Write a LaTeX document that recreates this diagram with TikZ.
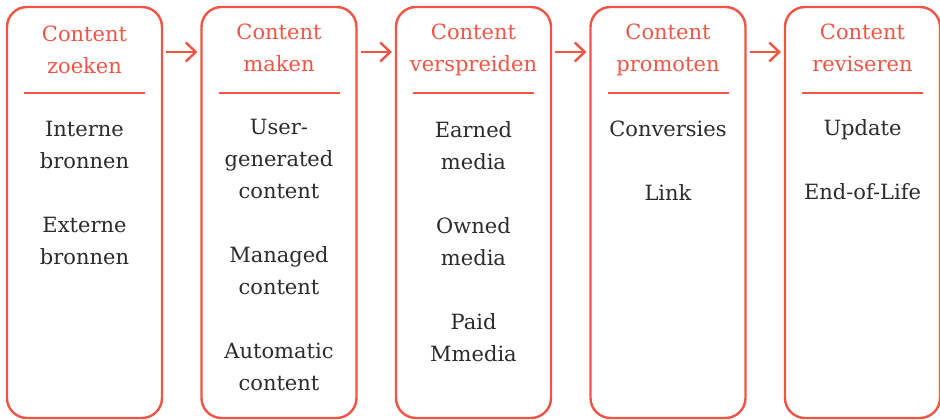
\documentclass[tikz,border=0pt]{standalone}
\usepackage{fontspec}
\setmainfont{DejaVu Serif}
\usetikzlibrary{arrows.meta}
\definecolor{kop}{HTML}{EF5545}
\definecolor{tekst}{HTML}{2B2B2B}

\begin{document}
\begin{tikzpicture}[x=1pt,y=-1pt,
        fase/.style={draw=kop, line width=2.4pt, rounded corners=20pt, outer sep=0pt,
            minimum width=155pt, minimum height=411pt, inner sep=0pt},
        kopje/.style={text=kop, font=\fontsize{21}{32}\selectfont, align=center, inner sep=0pt},
        inhoud/.style={text=tekst, font=\fontsize{21}{32}\selectfont, align=center,
            inner sep=0pt, anchor=north},
        streep/.style={draw=kop, line width=2.4pt},
        pijl/.style={draw=kop, line width=2.4pt, -{Straight Barb[length=10pt,width=19pt]}}]
    \useasboundingbox (0,0) rectangle (940,420);
    % vijf fasen naast elkaar
    \foreach \i/\dy/\titel/\body in {
            1/0/{Content\\zoeken}/{Interne\\bronnen\\[32pt]Externe\\bronnen},
            2/-2/{Content\\maken}/{User-\\generated\\content\\[32pt]Managed\\content\\[32pt]Automatic\\content},
            3/0/{Content\\verspreiden}/{Earned\\media\\[32pt]Owned\\media\\[32pt]Paid\\Mmedia},
            4/0/{Content\\promoten}/{Conversies\\[32pt]Link},
            5/-2/{Content\\reviseren}/{Update\\[32pt]End-of-Life}} {
        \node[fase] (f\i) at ({84.5+194.5*(\i-1)},212.5) {};
        \node[kopje] (k\i) at ([shift={(0,43+\dy)}]f\i.north) {\titel};
        \draw[streep] ([shift={(17,86)}]f\i.north west) -- ([shift={(-17,86)}]f\i.north east);
        \node[inhoud] (t\i) at ([shift={(0,114+\dy)}]f\i.north) {\body};
    }
    \foreach \i [evaluate=\i as \j using int(\i+1)] in {1,...,4}
        \draw[pijl] ([shift={(4,45)}]f\i.north east) -- ([shift={(-4,45)}]f\j.north west);
\end{tikzpicture}
\end{document}
